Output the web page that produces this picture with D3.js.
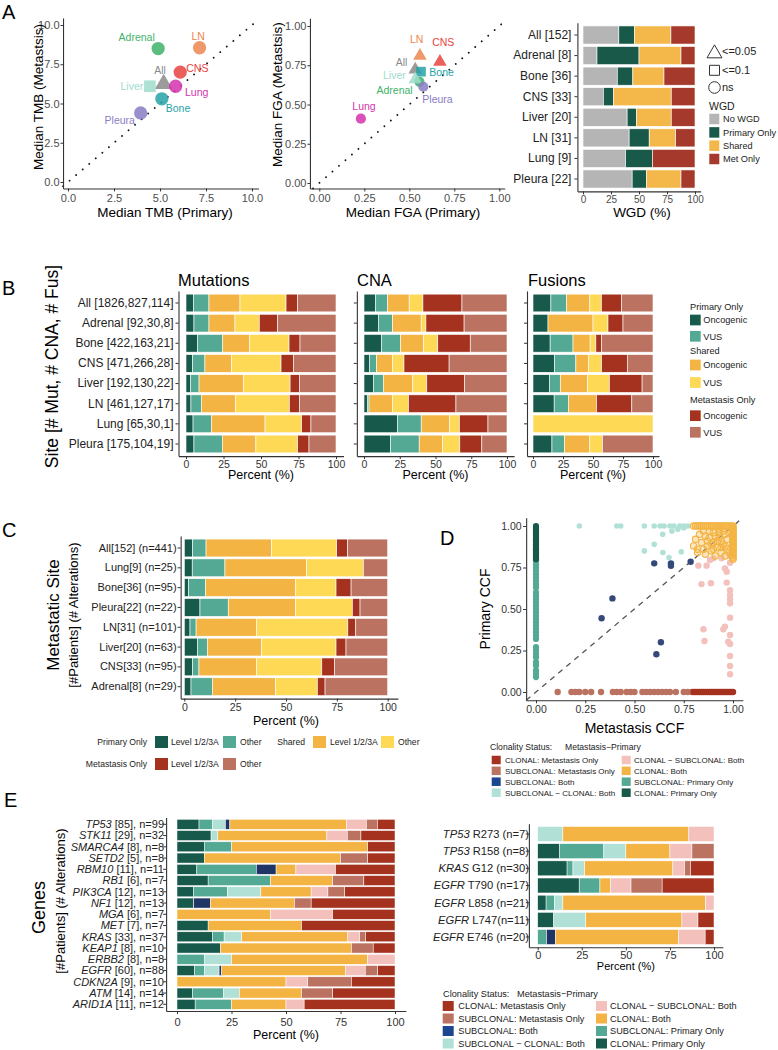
<!DOCTYPE html>
<html>
<head>
<meta charset="utf-8">
<script src="https://cdn.jsdelivr.net/npm/d3@7/dist/d3.min.js"></script>
<style>
html,body{margin:0;padding:0;background:#fff;}
svg{display:block;}
</style>
</head>
<body>
<svg id="fig" width="778" height="1050"></svg>
<script>
// ================= DATA =================
// Panel A – medians per metastatic site
const siteNames  = ["All","Adrenal","Bone","CNS","Liver","LN","Lung","Pleura"];
const tmbPrimary = [5.2, 4.9, 5.1, 6.1, 4.45, 7.15, 5.85, 3.95];
const tmbMet     = [6.25, 8.5, 5.3, 7.0, 6.1, 8.55, 6.1, 4.4];
const tmbSig     = ["<=0.05","ns","ns","ns","<=0.1","ns","ns","ns"];
const fgaPrimary = [0.533, 0.556, 0.565, 0.67, 0.533, 0.559, 0.231, 0.578];
const fgaMet     = [0.723, 0.645, 0.709, 0.772, 0.66, 0.81, 0.41, 0.613];
const fgaSig     = ["<=0.05","ns","<=0.1","<=0.05","<=0.05","<=0.05","ns","ns"];
const axisTicksTMB = [0, 2.5, 5, 7.5, 10];
const axisTicksFrac = [0, 0.25, 0.5, 0.75, 1];
const pctTicks = [0, 25, 50, 75, 100];

// Panel A – WGD
const wgdCats    = ["All [152]","Adrenal [8]","Bone [36]","CNS [33]","Liver [20]","LN [31]","Lung [9]","Pleura [22]"];
const wgdKeys    = ["No WGD","Primary Only","Shared","Met Only"];
const wgdNo      = [32, 12.5, 30.6, 18.2, 39.4, 41.2, 38, 43.9];
const wgdPrimary = [14, 37.5, 13.9, 9.1, 8.4, 17.9, 24, 12.8];
const wgdShared  = [32.5, 37.5, 27.8, 51.5, 31, 23.6, 0, 30.8];
const wgdMetOnly = [21.5, 12.5, 27.7, 21.2, 21.2, 17.3, 38, 12.5];

// Panel B – share of alterations (Primary onc, Primary VUS, Shared onc, Shared VUS, Met onc, Met VUS)
const bSites = ["All [1826,827,114]","Adrenal [92,30,8]","Bone [422,163,21]","CNS [471,266,28]","Liver [192,130,22]","LN [461,127,17]","Lung [65,30,1]","Pleura [175,104,19]"];
const mutPct = [
  [4.9,10.4,20.7,30.7,7.7,25.6],
  [5.3,10,17.3,16.2,12.2,38.9],
  [7.6,16.9,17.8,26.4,7.3,24],
  [4.4,8.2,17.8,32.9,8.2,28.4],
  [2.9,5.8,29.6,31.1,6.2,24.4],
  [3.3,6.9,22.7,36,6.7,24.4],
  [4.7,12.2,35.8,24.4,6.2,16.7],
  [5.3,18.9,22.4,27.8,7.6,18]];
const cnaPct = [
  [8.2,8.2,15.2,9.6,27.3,31.5],
  [10,10,20,3.3,26.7,30],
  [12.4,13.1,16.1,10,22.7,25.7],
  [3.7,5.1,11.2,7.9,31.5,40.4],
  [6.5,7,20.6,9.8,26.4,29.7],
  [2.3,1.2,16.4,11.2,33.2,35.7],
  [23.3,16.7,20,6.7,20,13.3],
  [18.6,20,16.3,12.1,15.4,17.6]];
const fusCount = [
  [17,15,22,11,19,30],
  [1,0,3,1,1,2],
  [3,4,3,1,1,9],
  [5,5,3,3,6,6],
  [3,2,5,4,6,2],
  [3,2,4,0,5,3],
  [0,0,0,1,0,0],
  [3,2,4,2,0,8]];

// Panel C – actionable levels (Primary L, Primary Other, Shared L, Shared Other, Met L, Met Other)
const cSites = ["All[152] (n=441)","Lung[9] (n=25)","Bone[36] (n=95)","Pleura[22] (n=22)","LN[31] (n=101)","Liver[20] (n=63)","CNS[33] (n=95)","Adrenal[8] (n=29)"];
const cPct = [
  [4.1,6.6,32.3,32,5.4,19.7],
  [3.9,16.1,40.2,27.9,0,12],
  [2,8.5,44.3,19.8,7.4,18],
  [7.7,13.9,33.1,27.9,3.8,13.6],
  [2.8,3,29.8,44.8,3.9,15.7],
  [6.4,4.9,26.7,36.6,4.9,20.5],
  [4.1,3.1,28.4,32,6.2,26.2],
  [3.3,10.5,31.1,20.5,3.8,30.8]];

// Panel D – CCF points [metastasis CCF, primary CCF]
const ccfClonalPrimaryOnly = [0.80,0.81,0.82,0.83,0.84,0.85,0.86,0.87,0.88,0.89,0.90,0.91,0.92,0.93,0.94,0.95,0.96,0.97,0.98,0.99,1.00];
const ccfSubclonalPrimaryOnly = [0.79,0.77,0.75,0.73,0.71,0.69,0.67,0.65,0.63,0.60,0.58,0.56,0.54,0.52,0.50,0.48,0.46,0.44,0.42,0.40,0.38,0.36,0.34,0.32,0.27,0.25,0.23,0.21,0.18,0.16,0.13,0.11,0.09];
const ccfClonalMetOnly = [0.80,0.81,0.82,0.83,0.84,0.85,0.86,0.87,0.88,0.89,0.90,0.91,0.92,0.93,0.94,0.95,0.96,0.97,0.98,0.99,1.00];
const ccfSubclonalMetOnly = [0.11,0.18,0.20,0.22,0.25,0.28,0.33,0.39,0.41,0.43,0.46,0.48,0.50,0.54,0.56,0.58,0.60,0.62,0.64,0.66,0.68,0.71,0.75,0.77,0.79];
const ccfSubclonalBoth = [[0.60,0.775],[0.685,0.775],[0.685,0.76],[0.785,0.785],[0.388,0.564],[0.333,0.444],[0.634,0.30],[0.611,0.227]];
const ccfSubToClonalBoth = [[0.22,1.0],[0.41,1.0],[0.43,1.0],[0.55,1.0],[0.60,1.0],[0.63,1.0],[0.65,1.0],[0.68,1.0],[0.70,1.0],[0.73,1.0],[0.75,1.0],[0.77,1.0],[0.69,0.97],[0.643,0.95],[0.60,0.89],[0.55,0.85],[0.644,0.84],[0.675,0.81],[0.737,0.845],[0.75,0.99],[0.72,0.98]];
const ccfClonalToSubBoth = [[0.824,0.761],[0.866,0.761],[0.883,0.795],[0.90,0.805],[0.942,0.805],[0.985,0.819],[0.985,0.779],[0.959,0.745],[0.968,0.725],[0.84,0.65],[0.888,0.655],[0.968,0.659],[0.985,0.614],[0.985,0.584],[0.985,0.558],[0.985,0.534],[0.985,0.448],[0.959,0.394],[0.951,0.378],[0.985,0.343],[0.85,0.378],[0.855,0.307],[0.976,0.303],[0.985,0.289],[0.985,0.217],[0.985,0.157],[0.985,0.107]];
const ccfClonalBoth = [
  [0.80,1.0],[0.81,1.0],[0.82,1.0],[0.83,1.0],[0.84,1.0],[0.85,1.0],[0.86,1.0],[0.87,1.0],[0.88,1.0],[0.89,1.0],[0.90,1.0],[0.91,1.0],[0.92,1.0],[0.93,1.0],[0.94,1.0],[0.95,1.0],[0.96,1.0],[0.97,1.0],[0.98,1.0],[0.99,1.0],[1.0,1.0],
  [1.0,0.80],[1.0,0.81],[1.0,0.82],[1.0,0.83],[1.0,0.84],[1.0,0.85],[1.0,0.86],[1.0,0.87],[1.0,0.88],[1.0,0.89],[1.0,0.90],[1.0,0.91],[1.0,0.92],[1.0,0.93],[1.0,0.94],[1.0,0.95],[1.0,0.96],[1.0,0.97],[1.0,0.98],[1.0,0.99],
  [0.82,0.86],[0.84,0.90],[0.86,0.83],[0.87,0.88],[0.88,0.93],[0.89,0.85],[0.90,0.90],[0.91,0.82],[0.92,0.87],[0.93,0.93],[0.94,0.84],[0.95,0.89],[0.96,0.95],[0.97,0.86],[0.81,0.92],[0.83,0.95],[0.85,0.97],[0.86,0.94],[0.88,0.97],[0.90,0.96],[0.91,0.94],[0.92,0.91],[0.93,0.96],[0.94,0.91],[0.95,0.97],[0.96,0.88],[0.97,0.92],[0.98,0.96],[0.80,0.88],[0.82,0.84],[0.85,0.86],[0.87,0.91],[0.89,0.89],[0.94,0.87],[0.96,0.82],[0.98,0.84],[0.90,0.86],[0.93,0.98]];

// Panel E – clonality (order: CLONAL Primary Only, SUBCLONAL Primary Only, SUBCLONAL−CLONAL Both, SUBCLONAL Both,
//                      CLONAL Both, CLONAL−SUBCLONAL Both, SUBCLONAL Met Only, CLONAL Met Only)
const eGenes    = ["TP53","STK11","SMARCA4","SETD2","RBM10","RB1","PIK3CA","NF1","MGA","MET","KRAS","KEAP1","ERBB2","EGFR","CDKN2A","ATM","ARID1A"];
const ePatients = [85,29,8,5,11,6,12,12,6,7,33,8,8,60,9,14,11];
const eN        = [99,32,8,8,11,7,13,13,7,7,37,10,8,88,10,14,12];
const eCounts = [
  [10,6,6,2,53,9,5,8],[5,0,1,0,16,3,2,5],[1,1,0,0,5,0,0,1],[1,0,0,0,5,0,1,1],
  [1,3,0,1,1,2,0,3],[1,2,0,0,2,0,1,1],[1,2,2,0,3,1,1,3],[1,0,0,1,5,0,1,5],
  [0,0,0,0,3,2,0,2],[1,0,0,0,3,0,0,3],[6,2,3,0,18,2,1,5],[2,0,0,0,6,0,1,1],
  [0,1,1,0,5,1,0,0],[7,4,6,1,50,8,5,7],[0,0,0,0,5,1,2,2],[1,2,1,0,4,0,2,4],[1,2,0,0,3,1,0,5]];
const hotGene = ["TP53","TP53","KRAS","EGFR","EGFR","EGFR","EGFR"];
const hotPos  = ["R273","R158","G12","T790","L858","L747","E746"];
const hotN    = [7,8,30,17,21,11,20];
const hotCounts = [
  [0,0,1,0,5,1,0,0],[1,2,1,0,2,1,1,0],[5,1,2,0,15,2,1,4],[4,2,0,0,1,2,3,5],
  [1,1,1,0,17,1,0,0],[1,0,2,0,6,1,0,1],[0,1,0,1,14,3,0,1]];
const clonLegendCol1 = ["CLONAL: Metastasis Only","SUBCLONAL: Metastasis Only","SUBCLONAL: Both","SUBCLONAL − CLONAL: Both"];
const clonLegendCol2 = ["CLONAL − SUBCLONAL: Both","CLONAL: Both","SUBCLONAL: Primary Only","CLONAL: Primary Only"];

// ================= STYLE =================
const FONT = "'Liberation Sans', Arial, Helvetica, sans-serif";
const C = {dg:"#17594a", tl:"#53a994", or:"#f4b443", ye:"#fdd955", dr:"#a4321f", br:"#bb7261",
           lt:"#b1e1d6", pk:"#f3c0bc", nv:"#1e3566", nvKey:"#1d4690", gy:"#b5b5b5"};
const siteColor = {All:"#8a8a8a", Adrenal:"#3fb26a", Bone:"#25a3a8", CNS:"#e8433f", Liver:"#9fdccd",
                   LN:"#ec8650", Lung:"#d233ad", Pleura:"#8a7cc4"};
const sixCols = [C.dg, C.tl, C.or, C.ye, C.dr, C.br];
const clonCols = [C.dg, C.tl, C.lt, C.nv, C.or, C.pk, C.br, C.dr];
const clonKeyCol = {"CLONAL: Metastasis Only":C.dr,"SUBCLONAL: Metastasis Only":C.br,"SUBCLONAL: Both":C.nvKey,
  "SUBCLONAL − CLONAL: Both":C.lt,"CLONAL − SUBCLONAL: Both":C.pk,"CLONAL: Both":C.or,
  "SUBCLONAL: Primary Only":C.tl,"CLONAL: Primary Only":C.dg};

const svg = d3.select("#fig");

// ================= HELPERS =================
function lin(v0,p0,v1,p1,d0,d1){const k=(p1-p0)/(v1-v0);return d3.scaleLinear().domain([d0,d1]).range([p0+(d0-v0)*k,p0+(d1-v0)*k]);}
function band(cats,c0,c1,pi){const n=cats.length,st=(c1-c0)/(n-1);
  return d3.scaleBand().domain(cats).range([c0-0.6*st,c1+0.6*st]).paddingInner(pi).paddingOuter(0.1+pi/2);}
function text(x,y,s,o={}){
  const t=svg.append("text").attr("x",x).attr("y",y).attr("font-family",FONT).attr("font-size",o.fs||12)
    .attr("fill",o.fill||"#000").attr("text-anchor",o.anchor||"start").attr("dy",o.dy==null?"0.35em":o.dy);
  if(o.rot) t.attr("transform",`rotate(-90 ${x} ${y})`);
  if(o.italic) t.attr("font-style","italic");
  t.text(s); return t;
}
function styleAxis(g,fs,col){
  g.attr("font-family",FONT).attr("font-size",fs);
  g.select(".domain").attr("stroke","#333").attr("stroke-width",1.1);
  g.selectAll(".tick line").attr("stroke","#333").attr("stroke-width",1);
  g.selectAll(".tick text").attr("fill",col);
  return g;
}
function bottomAxis(x,yPos,ticks,fmt,fs,col,pad){
  const g=svg.append("g").attr("transform",`translate(0,${yPos})`)
    .call(d3.axisBottom(x).tickValues(ticks).tickFormat(fmt).tickSize(3).tickSizeOuter(0).tickPadding(pad==null?2:pad));
  return styleAxis(g,fs,col);
}
function leftAxis(y,xPos,ticks,fmt,fs,col,pad,ts){
  let ax=d3.axisLeft(y).tickSize(ts==null?3:ts).tickSizeOuter(0).tickPadding(pad==null?2:pad).tickFormat(fmt);
  if(ticks) ax=ax.tickValues(ticks);
  const g=svg.append("g").attr("transform",`translate(${xPos},0)`).call(ax);
  return styleAxis(g,fs,col);
}
function stackBars(cats,rows,colors,x,y,sw){
  const keys=d3.range(colors.length);
  const table=rows.map((r,i)=>{const tot=d3.sum(r);const o={cat:cats[i]};keys.forEach(k=>o[k]=r[k]/tot*100);return o;});
  const series=d3.stack().keys(keys)(table);
  const g=svg.append("g");
  g.selectAll("g").data(series).join("g").attr("fill",(d,i)=>colors[i])
   .selectAll("rect").data(d=>d.filter(s=>s[1]-s[0]>1e-6)).join("rect")
   .attr("x",d=>x(d[0])).attr("y",d=>y(d.data.cat))
   .attr("width",d=>x(d[1])-x(d[0])).attr("height",y.bandwidth())
   .attr("stroke","#fff").attr("stroke-width",sw==null?0.6:sw);
}
function key(x,yc,w,h,col){svg.append("rect").attr("x",x).attr("y",yc-h/2).attr("width",w).attr("height",h).attr("fill",col);}

// ================= PANEL LETTERS =================
[["A",2,19],["B",2,295],["C",2,537],["D",440,545],["E",4,807]].forEach(([s,x,y])=>text(x,y,s,{fs:20,dy:0}));

// ================= PANEL A: scatter plots =================
const shapeOf={"<=0.05":d3.symbolTriangle,"<=0.1":d3.symbolSquare,"ns":d3.symbolCircle};
function scatterA(o){
  const x=o.x, y=o.y;
  const lo=Math.max(x.domain()[0],y.domain()[0]), hi=Math.min(x.domain()[1],y.domain()[1]);
  svg.append("line").attr("x1",x(lo)).attr("y1",y(lo)).attr("x2",x(hi)).attr("y2",y(hi))
    .attr("stroke","#111").attr("stroke-width",1.9).attr("stroke-dasharray","0.01 8.6").attr("stroke-linecap","round");
  siteNames.forEach((n,i)=>{
    svg.append("path").attr("d",d3.symbol(shapeOf[o.sig[i]],o.size[o.sig[i]])())
      .attr("transform",`translate(${x(o.xs[i])},${y(o.ys[i])})`)
      .attr("fill",siteColor[n]).attr("fill-opacity",0.85);
  });
  siteNames.forEach((n,i)=>{
    const f=o.off[n];
    text(x(o.xs[i])+f[0],y(o.ys[i])+f[1],n,{fs:10.5,fill:siteColor[n],anchor:f[2]});
  });
  bottomAxis(x,y.range()[0],o.ticks,o.fmt,11,"#4d4d4d",2.5);
  leftAxis(y,x.range()[0],o.ticks,o.fmt,11,"#4d4d4d",1,2.5);
}
scatterA({
  x:lin(0,68,10,252,-0.27,10.35), y:lin(0,182,10,25,-0.41,10.45),
  xs:tmbPrimary, ys:tmbMet, sig:tmbSig, ticks:axisTicksTMB, fmt:d3.format(".1f"),
  size:{"<=0.05":135,"<=0.1":136,"ns":139},
  off:{All:[-3.7,-14,"middle"],Adrenal:[-21.5,-11.2,"middle"],LN:[-1.3,-11.8,"middle"],CNS:[6,-3.8,"start"],
       Liver:[-6.6,0.5,"end"],Lung:[9.4,6.5,"start"],Bone:[3.9,9.5,"start"],Pleura:[-5.7,7.1,"end"]}
});
text(165,212.5,"Median TMB (Primary)",{fs:13.5,anchor:"middle"});
text(38,97,"Median TMB (Metastsis)",{fs:13.5,anchor:"middle",rot:true});

scatterA({
  x:lin(0,319.3,1,499.3,-0.052,1.03), y:lin(0,183,1,26,-0.035,1.05),
  xs:fgaPrimary, ys:fgaMet, sig:fgaSig, ticks:axisTicksFrac, fmt:d3.format(".2f"),
  size:{"<=0.05":80,"<=0.1":94,"ns":82},
  off:{LN:[-3.2,-16.7,"middle"],CNS:[3.4,-19.5,"middle"],All:[-7.9,-7.2,"end"],Bone:[8.3,0.6,"start"],
       Liver:[-9.5,-3.7,"end"],Adrenal:[-6.7,8.3,"end"],Pleura:[-1,12.2,"start"],Lung:[3.1,-12.6,"middle"]}
});
text(413,212.7,"Median FGA (Primary)",{fs:13.5,anchor:"middle"});
text(277.5,94.7,"Median FGA (Metastsis)",{fs:13.5,anchor:"middle",rot:true});

// ================= PANEL A: WGD bars =================
{
  const x=lin(0,583,100,695,-5,105), y=band(wgdCats,35,179,0.12);
  const rows=wgdCats.map((c,i)=>[wgdNo[i],wgdPrimary[i],wgdShared[i],wgdMetOnly[i]]);
  stackBars(wgdCats,rows,[C.gy,"#19594a","#f4b84a","#a5392b"],x,y,0.6);
  leftAxis(y,x.range()[0],null,d=>d,12,"#222",3);
  bottomAxis(x,y.range()[1],pctTicks,d=>d,10,"#4d4d4d",2);
  text(642,212.7,"WGD (%)",{fs:13.5,anchor:"middle"});
  // significance legend
  const lg=[["<=0.05",53.5,50.7],["<=0.1",70.3,70],["ns",87.5,87.3]];
  const lsz={"<=0.05":97,"<=0.1":100,"ns":106};
  lg.forEach(([s,yc,yt])=>{
    svg.append("path").attr("d",d3.symbol(shapeOf[s],lsz[s])()).attr("transform",`translate(714.5,${yc})`)
      .attr("fill","#fff").attr("stroke","#333").attr("stroke-width",1);
    text(722,yt,s,{fs:11,fill:"#222"});
  });
  text(709,106,"WGD",{fs:10.5,fill:"#222"});
  const wc=[C.gy,"#19594a","#f4b84a","#a5392b"], wy=[119,132.4,145.7,159];
  wgdKeys.forEach((k,i)=>{key(709.3,wy[i],10,10.5,wc[i]);text(723,wy[i],k,{fs:9.2,fill:"#222"});});
}

// ================= PANEL B =================
{
  const y=band(bSites,303,444,0.12);
  const sub=[
    {title:"Mutations",tx:178,x:lin(0,186,100,336,-5,105),rows:mutPct,labels:true},
    {title:"CNA",tx:357,x:lin(0,364,100,507,-5,105),rows:cnaPct,labels:false},
    {title:"Fusions",tx:528,x:lin(0,533,100,653,-5,105),rows:fusCount,labels:false}];
  sub.forEach(s=>{
    stackBars(bSites,s.rows,sixCols,s.x,y,0.6);
    leftAxis(y,s.x.range()[0],null,s.labels?(d=>d):(d=>""),12,"#222",2);
    bottomAxis(s.x,y.range()[1],pctTicks,d=>d,10.5,"#333",1.5);
    text(s.x(50),475,"Percent (%)",{fs:12.5,anchor:"middle"});
    text(s.tx,280,s.title,{fs:16.5});
  });
  text(51.7,366.5,"Site [# Mut, # CNA, # Fus]",{fs:17.5,anchor:"middle",rot:true});
  // legend
  const lgB=[["t","Primary Only",306.7],["k","Oncogenic",320,C.dg],["k","VUS",336.3,C.tl],
             ["t","Shared",351],["k","Oncogenic",365,C.or],["k","VUS",382.5,C.ye],
             ["t","Metastasis Only",400],["k","Oncogenic",415.7,C.dr],["k","VUS",432.3,C.br]];
  lgB.forEach(l=>{
    if(l[0]==="t") text(690,l[2],l[1],{fs:9.2,fill:"#222"});
    else {key(690,l[2],10.7,10.7,l[3]); text(703.3,l[2],l[1],{fs:9.2,fill:"#222"});}
  });
}

// ================= PANEL C =================
{
  const y=band(cSites,548,686.7,0.1), x=lin(0,184.3,100,387.7,-1.8,105);
  stackBars(cSites,cPct,sixCols,x,y,0.6);
  leftAxis(y,x.range()[0],null,d=>d,11,"#222",1);
  bottomAxis(x,y.range()[1],pctTicks,d=>d,10.5,"#333",1.5);
  text(x(50),721,"Percent (%)",{fs:12.5,anchor:"middle"});
  text(53,615,"Metastatic Site",{fs:17,anchor:"middle",rot:true});
  text(73.5,615,"[#Patients] (# Alterations)",{fs:13,anchor:"middle",rot:true});
  // legend
  const fs=8.6;
  text(147,742,"Primary Only",{fs,anchor:"end",fill:"#222"});
  key(155,742,13,12,C.dg); text(171,742,"Level 1/2/3A",{fs,fill:"#222"});
  key(223,742,13,12,C.tl); text(240,742,"Other",{fs,fill:"#222"});
  text(305,742,"Shared",{fs,anchor:"end",fill:"#222"});
  key(313,742,13,12,C.or); text(330,742,"Level 1/2/3A",{fs,fill:"#222"});
  key(381,742,13,12,C.ye); text(398,742,"Other",{fs,fill:"#222"});
  text(147,764,"Metastasis Only",{fs,anchor:"end",fill:"#222"});
  key(155,764,13,12,C.dr); text(171,764,"Level 1/2/3A",{fs,fill:"#222"});
  key(223,764,13,12,C.br); text(240,764,"Other",{fs,fill:"#222"});
}

// ================= PANEL D =================
{
  const x=lin(0,536,1,733,-0.05,1.05), y=lin(0,692,1,526,-0.05,1.05);
  svg.append("line").attr("x1",x(-0.05)).attr("y1",y(-0.05)).attr("x2",x(1.05)).attr("y2",y(1.05))
    .attr("stroke","#555").attr("stroke-width",1.3).attr("stroke-dasharray","5.5 5");
  const pts=(arr,col,r,extra)=>{
    const s=svg.append("g").selectAll("circle").data(arr).join("circle")
      .attr("cx",d=>x(d[0])).attr("cy",d=>y(d[1])).attr("r",r).attr("fill",col);
    if(extra) extra(s);
  };
  pts(ccfSubclonalMetOnly.map(v=>[v,0]),C.br,3.2);
  pts(ccfClonalMetOnly.map(v=>[v,0]),C.dr,3.2);
  pts(ccfSubclonalPrimaryOnly.map(v=>[0,v]),C.tl,3.1);
  pts(ccfClonalPrimaryOnly.map(v=>[0,v]),C.dg,3.1);
  pts(ccfSubToClonalBoth,C.lt,2.8);
  pts(ccfClonalToSubBoth,C.pk,3.2);
  pts(ccfClonalBoth,C.or,3.2,s=>s.attr("fill-opacity",0.35).attr("stroke",C.or).attr("stroke-width",1.1));
  pts(ccfSubclonalBoth,"#34497a",3.2);
  bottomAxis(x,y.range()[0],axisTicksFrac,d3.format(".2f"),10.5,"#333",2);
  leftAxis(y,x.range()[0],axisTicksFrac,d3.format(".2f"),10.5,"#333",1.5);
  text(485,609,"Primary CCF",{fs:14,anchor:"middle",rot:true});
  text(x(0.5),728,"Metastasis CCF",{fs:14,anchor:"middle"});
  // legend
  text(490,747,"Clonality Status:",{fs:8.6,fill:"#222"});
  text(565,747,"Metastasis−Primary",{fs:8.6,fill:"#222"});
  const ry=[760,770.8,781.7,792.7];
  clonLegendCol1.forEach((k,i)=>{key(491.7,ry[i],9,8.5,clonKeyCol[k]);text(505,ry[i],k,{fs:8,fill:"#222"});});
  clonLegendCol2.forEach((k,i)=>{key(621.7,ry[i],9,8.5,clonKeyCol[k]);text(634,ry[i],k,{fs:8,fill:"#222"});});
}

// ================= PANEL E (left) =================
{
  const y=band(eGenes,824.3,1004.3,0.11), x=lin(0,177,100,395,-5,105);
  stackBars(eGenes,eCounts,clonCols,x,y,0.5);
  leftAxis(y,x.range()[0],null,d=>"",11,"#222",2);
  const lab=svg.append("g").selectAll("text").data(eGenes).join("text")
    .attr("x",164).attr("y",d=>y(d)+y.bandwidth()/2).attr("dy","0.35em")
    .attr("text-anchor","end").attr("font-family",FONT).attr("font-size",11).attr("fill","#222");
  lab.append("tspan").attr("font-style","italic").text(d=>d);
  lab.append("tspan").text((d,i)=>` [${ePatients[i]}], n=${eN[i]}`);
  bottomAxis(x,y.range()[1],pctTicks,d=>d,11,"#333",4);
  text(x(50),1035,"Percent (%)",{fs:12.5,anchor:"middle"});
  text(39,907.5,"Genes",{fs:18,anchor:"middle",rot:true});
  text(60,901,"[#Patients] (# Alterations)",{fs:13,anchor:"middle",rot:true});
}

// ================= PANEL E (right) =================
{
  const cats=hotGene.map((g,i)=>`${g} ${hotPos[i]}`);
  const y=band(cats,834,937,0.13), x=lin(0,537.7,100,714,-5,105);
  stackBars(cats,hotCounts,clonCols,x,y,0.5);
  const lab=svg.append("g").selectAll("text").data(cats).join("text")
    .attr("x",529).attr("y",d=>y(d)+y.bandwidth()/2).attr("dy","0.35em")
    .attr("text-anchor","end").attr("font-family",FONT).attr("font-size",11.2).attr("fill","#222");
  lab.append("tspan").attr("font-style","italic").text((d,i)=>hotGene[i]);
  lab.append("tspan").text((d,i)=>` ${hotPos[i]}${hotPos[i]==="L747"?"":" "}(n=${hotN[i]})`);
  leftAxis(y,x.range()[0],null,d=>"",11,"#222",2);
  bottomAxis(x,y.range()[1],pctTicks,d=>d,11,"#333",1);
  text(x(50),966,"Percent (%)",{fs:11,anchor:"middle"});
  // legend
  text(443,993.3,"Clonality Status:",{fs:9.2,fill:"#222"});
  text(517,993.3,"Metastasis−Primary",{fs:9.2,fill:"#222"});
  const ry=[1006,1018.5,1031,1043.5];
  clonLegendCol1.forEach((k,i)=>{key(442.7,ry[i],11,10,clonKeyCol[k]);text(458.3,ry[i],k,{fs:9.2,fill:"#222"});});
  clonLegendCol2.forEach((k,i)=>{key(596,ry[i],11,10,clonKeyCol[k]);text(610,ry[i],k,{fs:9.2,fill:"#222"});});
}
</script>
</body>
</html>
